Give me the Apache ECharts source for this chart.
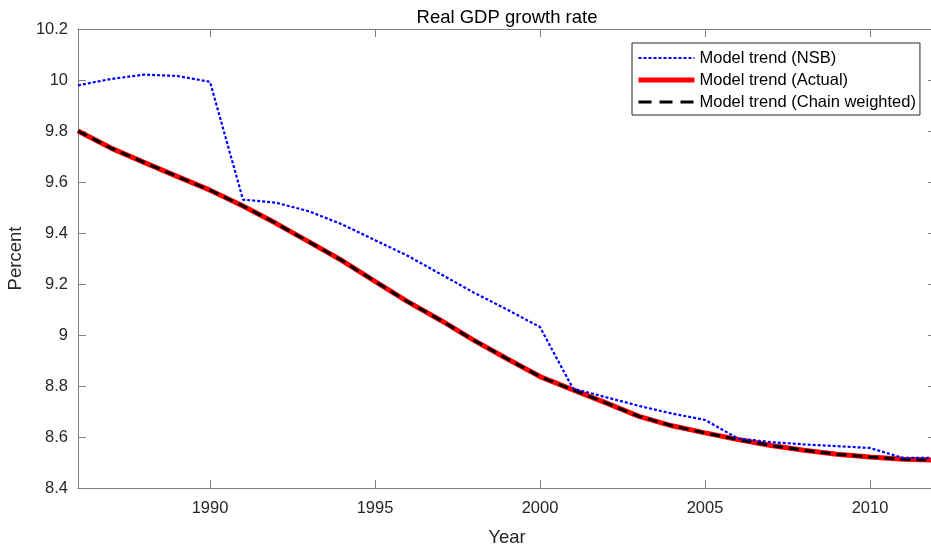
<!DOCTYPE html>
<html>
<head>
<meta charset="utf-8">
<title>Real GDP growth rate</title>
<script src="https://cdn.jsdelivr.net/npm/echarts@6/dist/echarts.min.js"></script>
<style>
  html, body { margin: 0; padding: 0; background: #ffffff; }
  #chart { width: 931px; height: 551px; }
</style>
</head>
<body>
<div id="chart"></div>
<script>
// Years covered by the model trends
const years = [1986, 1987, 1988, 1989, 1990, 1991, 1992, 1993, 1994, 1995, 1996, 1997, 1998,
               1999, 2000, 2001, 2002, 2003, 2004, 2005, 2006, 2007, 2008, 2009, 2010, 2011, 2012];

// Model trend based on NSB figures (percent)
const trendNSB = [9.979, 10.004, 10.021, 10.016, 9.993, 9.531, 9.519, 9.485, 9.434, 9.372, 9.310, 9.238, 9.166,
                  9.100, 9.031, 8.790, 8.756, 8.722, 8.692, 8.667, 8.594, 8.580, 8.571, 8.564, 8.557, 8.518, 8.518];

// Model trend based on actual figures (percent)
const trendActual = [9.800, 9.733, 9.677, 9.622, 9.568, 9.506, 9.438, 9.365, 9.292, 9.210, 9.130, 9.057, 8.979,
                     8.907, 8.837, 8.785, 8.734, 8.681, 8.644, 8.616, 8.590, 8.567, 8.548, 8.532, 8.522, 8.513, 8.509];

// Model trend based on chain-weighted figures (percent)
const trendChain = [9.800, 9.733, 9.677, 9.622, 9.568, 9.506, 9.438, 9.365, 9.292, 9.210, 9.130, 9.057, 8.979,
                    8.907, 8.837, 8.785, 8.734, 8.681, 8.644, 8.616, 8.590, 8.567, 8.548, 8.532, 8.522, 8.513, 8.509];

// Axis ticks
const xTicks = [1990, 1995, 2000, 2005, 2010];
const yMin = 8.4, yMax = 10.2, yStep = 0.2;
const xMin = 1986, xMax = 2012;

const seriesNames = ['Model trend (NSB)', 'Model trend (Actual)', 'Model trend (Chain weighted)'];

const pairs = (vals) => years.map((y, i) => [y, vals[i]]);

const FONT = '"Liberation Sans", Arial, Helvetica, sans-serif';
const axisGrey = '#808080';
const textDark = '#262626';

// Line styles shared by the series and their legend samples
const styleNSB = { color: '#0000ff', width: 2.2, type: [3, 2], cap: 'butt' };
const styleActual = { color: '#ff0000', width: 5, type: 'solid' };
const styleChain = { color: '#000000', width: 3, type: [10, 6], cap: 'butt' };

const chart = echarts.init(document.getElementById('chart'), null, { renderer: 'canvas' });

const xBase = {
  type: 'value', min: xMin, max: xMax,
  axisLine: { show: true, onZero: false, lineStyle: { color: axisGrey, width: 1 } },
  axisTick: { show: true, inside: true, length: 8, customValues: xTicks, lineStyle: { color: axisGrey } },
  splitLine: { show: false }
};
const yBase = {
  type: 'value', min: yMin, max: yMax, interval: yStep,
  axisLine: { show: true, onZero: false, lineStyle: { color: axisGrey, width: 1 } },
  axisTick: { show: true, inside: true, length: 8, lineStyle: { color: axisGrey } },
  splitLine: { show: false }
};

chart.setOption({
  backgroundColor: '#ffffff',
  animation: false,
  title: {
    text: 'Real GDP growth rate',
    left: 502, top: 3, textAlign: 'center',
    textStyle: { fontFamily: FONT, fontSize: 18.5, fontWeight: 'normal', color: '#000000' }
  },
  grid: { left: 78, top: 29, width: 858, height: 459, containLabel: false, outerBoundsMode: 'none' },
  legend: {
    data: [
      { name: seriesNames[0], lineStyle: styleNSB },
      { name: seriesNames[1], lineStyle: styleActual },
      { name: seriesNames[2], lineStyle: Object.assign({}, styleChain, { type: [13, 8] }) }
    ],
    orient: 'vertical',
    left: 632, top: 43,
    padding: [6, 4, 4, 4],
    itemWidth: 56, itemHeight: 14, itemGap: 4,
    borderColor: '#262626', borderWidth: 1,
    backgroundColor: '#ffffff',
    itemStyle: { color: 'transparent', borderWidth: 0, opacity: 0 },
    textStyle: { fontFamily: FONT, fontSize: 16.5, color: '#000000', lineHeight: 18 }
  },
  xAxis: [
    Object.assign({}, xBase, {
      position: 'bottom',
      name: 'Year', nameLocation: 'middle', nameGap: 40,
      nameTextStyle: { fontFamily: FONT, fontSize: 18.5, color: textDark },
      axisLabel: { show: true, customValues: xTicks, margin: 12,
                   fontFamily: FONT, fontSize: 16.5, color: textDark,
                   formatter: (v) => String(v) }
    }),
    Object.assign({}, xBase, { position: 'top', axisLabel: { show: false } })
  ],
  yAxis: [
    Object.assign({}, yBase, {
      position: 'left',
      name: 'Percent', nameLocation: 'middle', nameGap: 46, nameRotate: 90,
      nameTextStyle: { fontFamily: FONT, fontSize: 18.5, color: textDark },
      axisLabel: { show: true, margin: 10, fontFamily: FONT, fontSize: 16.5, color: textDark,
                   formatter: (v) => String(parseFloat(v.toFixed(1))) }
    }),
    Object.assign({}, yBase, { position: 'right', axisLabel: { show: false } })
  ],
  series: [
    {
      name: seriesNames[1], type: 'line', xAxisIndex: 0, yAxisIndex: 0,
      data: pairs(trendActual), symbol: 'none', smooth: false, z: 2,
      lineStyle: styleActual, itemStyle: { color: styleActual.color }
    },
    {
      name: seriesNames[2], type: 'line', xAxisIndex: 0, yAxisIndex: 0,
      data: pairs(trendChain), symbol: 'none', smooth: false, z: 3,
      lineStyle: styleChain, itemStyle: { color: styleChain.color }
    },
    {
      name: seriesNames[0], type: 'line', xAxisIndex: 0, yAxisIndex: 0,
      data: pairs(trendNSB), symbol: 'none', smooth: false, z: 4,
      lineStyle: styleNSB, itemStyle: { color: styleNSB.color }
    }
  ]
});
</script>
</body>
</html>
